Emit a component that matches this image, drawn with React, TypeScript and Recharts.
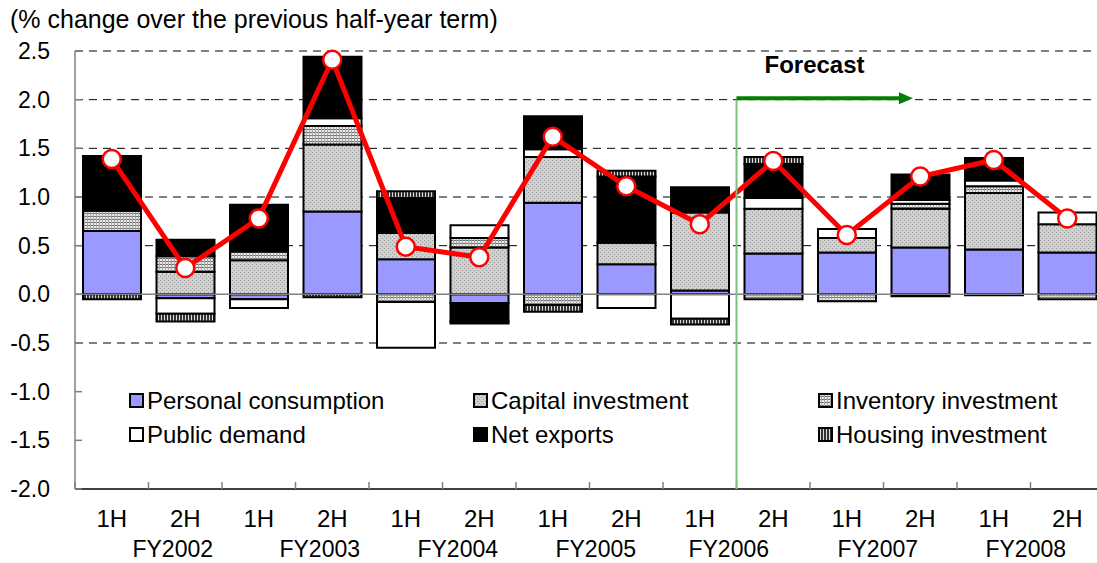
import { ComposedChart, Bar, Line, XAxis, YAxis, CartesianGrid, ReferenceLine } from "recharts";

// half-year periods and fiscal years
const periods = ["1H", "2H", "1H", "2H", "1H", "2H", "1H", "2H", "1H", "2H", "1H", "2H", "1H", "2H"];
const fiscalYears = ["FY2002", "FY2003", "FY2004", "FY2005", "FY2006", "FY2007", "FY2008"];

// contributions (percentage points)
const personal = [0.65, -0.04, -0.05, 0.85, 0.36, -0.09, 0.94, 0.31, 0.04, 0.42, 0.43, 0.48, 0.46, 0.43];
const capital = [0, 0.23, 0.35, 0.69, 0.27, 0.48, 0.47, 0.22, 0.8, 0.46, 0.15, 0.4, 0.58, 0.29];
const inventory = [0.21, 0.16, 0.09, 0.19, -0.08, 0.1, -0.11, 0, 0, -0.05, -0.07, 0.05, 0.07, -0.05];
const publicDemand = [0, -0.16, -0.09, 0.08, -0.47, 0.13, 0.08, -0.14, -0.25, 0.11, 0.09, 0.04, 0.06, 0.12];
const netExports = [0.56, 0.17, 0.46, 0.63, 0.36, -0.19, 0.34, 0.68, 0.26, 0.35, 0, 0.26, 0.23, 0];
const housing = [-0.05, -0.08, 0.02, -0.03, 0.07, -0.02, -0.07, 0.06, -0.06, 0.07, 0, -0.02, -0.01, 0];
// real GDP growth
const gdp = [1.39, 0.27, 0.78, 2.41, 0.49, 0.38, 1.62, 1.11, 0.72, 1.37, 0.61, 1.21, 1.38, 0.78];

const yTicks = [-2, -1.5, -1, -0.5, 0, 0.5, 1, 1.5, 2, 2.5];
const gridValues = [2.5, 2, 1.5, 1, 0.5, -0.5];

const data = periods.map((p, i) => ({
  key: `${p} ${fiscalYears[Math.floor(i / 2)]}`,
  personal: personal[i],
  capital: capital[i],
  inventory: inventory[i],
  publicDemand: publicDemand[i],
  netExports: netExports[i],
  housing: housing[i],
  gdp: gdp[i],
}));

const legendItems = [
  { label: "Personal consumption", fill: "#9999ff" },
  { label: "Capital investment", fill: "url(#patCap)" },
  { label: "Inventory investment", fill: "url(#patInv)" },
  { label: "Public demand", fill: "#ffffff" },
  { label: "Net exports", fill: "#000000" },
  { label: "Housing investment", fill: "url(#patHou)" },
];

// layout
const CHART_W = 1110;
const CHART_H = 563;
const TOP = 51;
const LEFT = 75;
const RIGHT = 6;
const XAXIS_H = 74;
const BAND = (CHART_W - LEFT - RIGHT) / periods.length;
const PLOT_H = CHART_H - TOP - XAXIS_H;
const yPx = (v: number) => TOP + ((2.5 - v) / 4.5) * PLOT_H;
const fyNudge = [61, 61, 52, 43, 29, 31, 32];
const FONT = '"Liberation Sans", Arial, sans-serif';

function YTick({ x, y, payload }: any) {
  return (
    <g>
      <line x1={x} x2={x + 7} y1={y} y2={y} stroke="#808080" strokeWidth={1.5} />
      <text x={x - 25} y={y} dy={8} textAnchor="end" fontSize={23} fontFamily={FONT} fill="#000">
        {Number(payload.value).toFixed(1)}
      </text>
    </g>
  );
}

function XTick({ x, y, payload, index }: any) {
  const [p] = String(payload.value).split(" ");
  const fyIdx = Math.floor(index / 2);
  return (
    <g>
      <line x1={x - BAND / 2} x2={x - BAND / 2} y1={y} y2={y - 7} stroke="#808080" strokeWidth={1.5} />
      <text x={x} y={y + 37.5} textAnchor="middle" fontSize={24} fontFamily={FONT} fill="#000">
        {p}
      </text>
      {index % 2 === 0 && (
        <text x={x + fyNudge[fyIdx]} y={y + 68} textAnchor="middle" fontSize={23} fontFamily={FONT} fill="#000">
          {fiscalYears[fyIdx]}
        </text>
      )}
    </g>
  );
}

export default function App() {
  const forecastX = LEFT + 9 * BAND;
  const arrowEnd = forecastX + 2.4 * BAND;
  const arrowY = yPx(2.0) - 1.5;
  return (
    <div
      style={{
        position: "absolute",
        left: 0,
        top: 0,
        width: 1097,
        height: 563,
        overflow: "hidden",
        background: "#fff",
        fontFamily: FONT,
      }}
    >
      <svg width={0} height={0} style={{ position: "absolute" }}>
        <defs>
          <pattern id="patCap" width="4" height="4" patternUnits="userSpaceOnUse">
            <rect width="4" height="4" fill="#d0d0d0" />
            <rect x="0" y="0" width="1" height="1" fill="#999" />
            <rect x="2" y="2" width="1" height="1" fill="#999" />
          </pattern>
          <pattern id="patInv" width="3" height="3" patternUnits="userSpaceOnUse">
            <rect width="3" height="3" fill="#e8e8e8" />
            <rect x="0" y="0" width="3" height="1" fill="#707070" />
            <rect x="0" y="0" width="1" height="3" fill="#a8a8a8" />
          </pattern>
          <pattern id="patHou" width="3" height="3" patternUnits="userSpaceOnUse">
            <rect width="3" height="3" fill="#333" />
            <rect x="2" y="0" width="1" height="3" fill="#ddd" />
          </pattern>
        </defs>
      </svg>

      <div style={{ position: "absolute", left: 10, top: 5, fontSize: 25, color: "#000", whiteSpace: "nowrap" }}>
        (% change over the previous half-year term)
      </div>

      <ComposedChart
        width={CHART_W}
        height={CHART_H}
        data={data}
        margin={{ top: TOP, right: RIGHT, bottom: 0, left: 0 }}
        stackOffset="sign"
        barSize={58}
      >
        <CartesianGrid
          vertical={false}
          horizontalValues={gridValues}
          stroke="#000"
          strokeDasharray="8 6"
        />
        <XAxis
          dataKey="key"
          height={XAXIS_H}
          interval={0}
          tickSize={0}
          tickMargin={0}
          tickLine={false}
          axisLine={{ stroke: "#000", strokeWidth: 1.5 }}
          tick={<XTick />}
        />
        <YAxis
          type="number"
          domain={[-2, 2.5]}
          ticks={yTicks}
          interval={0}
          width={LEFT}
          tickSize={0}
          tickMargin={0}
          tickLine={false}
          axisLine={{ stroke: "#808080", strokeWidth: 1.5 }}
          tick={<YTick />}
        />
        <ReferenceLine y={0} stroke="#808080" strokeWidth={1.5} />
        <Bar dataKey="personal" stackId="a" fill="#9999ff" stroke="#000" strokeWidth={2} isAnimationActive={false} />
        <Bar dataKey="capital" stackId="a" fill="url(#patCap)" stroke="#000" strokeWidth={2} isAnimationActive={false} />
        <Bar dataKey="inventory" stackId="a" fill="url(#patInv)" stroke="#000" strokeWidth={2} isAnimationActive={false} />
        <Bar dataKey="publicDemand" stackId="a" fill="#ffffff" stroke="#000" strokeWidth={2} isAnimationActive={false} />
        <Bar dataKey="netExports" stackId="a" fill="#000000" stroke="#000" strokeWidth={2} isAnimationActive={false} />
        <Bar dataKey="housing" stackId="a" fill="url(#patHou)" stroke="#000" strokeWidth={2} isAnimationActive={false} />
        <Line
          type="linear"
          dataKey="gdp"
          stroke="#ff0000"
          strokeWidth={5}
          dot={{ r: 9, fill: "#fff", stroke: "#ff0000", strokeWidth: 2.5 }}
          activeDot={false}
          isAnimationActive={false}
        />
      </ComposedChart>

      <svg
        width={1097}
        height={563}
        style={{ position: "absolute", left: 0, top: 0, pointerEvents: "none" }}
      >
        <line x1={forecastX} x2={forecastX} y1={arrowY} y2={yPx(-2)} stroke="#7cc07c" strokeWidth={2} />
        <line x1={forecastX} x2={arrowEnd - 12} y1={arrowY} y2={arrowY} stroke="#008000" strokeWidth={4} />
        <polygon
          points={`${arrowEnd},${arrowY} ${arrowEnd - 14},${arrowY - 6} ${arrowEnd - 14},${arrowY + 6}`}
          fill="#008000"
        />
        <text x={forecastX + 78} y={73} textAnchor="middle" fontSize={24} fontWeight="bold" fontFamily={FONT} fill="#000">
          Forecast
        </text>
      </svg>

      <div
        style={{
          position: "absolute",
          left: 129,
          top: 384,
          display: "grid",
          gridTemplateColumns: "344px 345px 280px",
          gridAutoRows: "34px",
          fontSize: 24,
          color: "#000",
        }}
      >
        {legendItems.map((it) => (
          <div key={it.label} style={{ display: "flex", alignItems: "center", whiteSpace: "nowrap" }}>
            <svg width={16} height={16} style={{ marginRight: 2 }}>
              <rect x={1} y={1} width={13} height={13} fill={it.fill} stroke="#000" strokeWidth={2} />
            </svg>
            <span>{it.label}</span>
          </div>
        ))}
      </div>
    </div>
  );
}
